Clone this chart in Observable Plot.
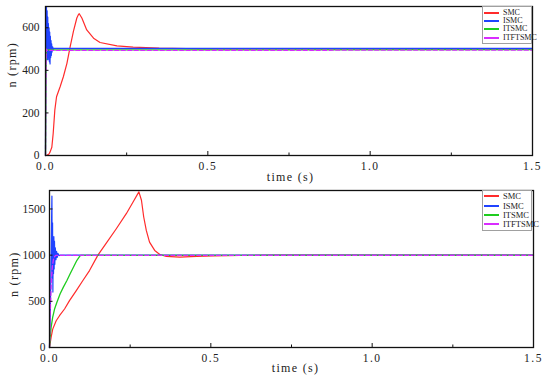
<!DOCTYPE html>
<html><head><meta charset="utf-8">
<script src="https://cdn.jsdelivr.net/npm/d3@7"></script>
<script src="https://cdn.jsdelivr.net/npm/@observablehq/plot@0.6"></script>
<style>
body{margin:0;background:#fff;}
#wrap{position:relative;width:550px;height:380px;overflow:hidden;}
#wrap svg{display:block;font-family:"Liberation Serif",serif !important;}
#wrap svg text{font-family:"Liberation Serif",serif !important;}
#wrap svg g[aria-label="text"] text{letter-spacing:1.3px;}
#wrap svg g[aria-label="x-axis tick label"] text{letter-spacing:1.5px;}
.legend{position:absolute;background:#fff;border:1px solid #a0a0a0;box-sizing:border-box;font-family:"Liberation Serif",serif;color:#222;}
.legend .row{position:absolute;left:0;height:0;}
.legend .sw{position:absolute;left:1px;width:15px;height:1.6px;top:-0.8px;}
.legend .lb{position:absolute;left:20px;top:-6px;line-height:12px;white-space:nowrap;}
</style></head><body><div id="wrap"></div>
<script>
// ---------- data ----------
const seriesNames = ["SMC", "ISMC", "ITSMC", "ITFTSMC"];
const seriesColors = ["#ff2b2b", "#2043ff", "#1fcc1f", "#d92cff"];
const xTicks = [0, 0.5, 1.0, 1.5];
const xTickLabels = ["0.0", "0.5", "1.0", "1.5"];
const xMinorTicks = [0.25, 0.75, 1.25];
const topYTicks = [0, 200, 400, 600];
const topYTickLabels = ["0", "200", "400", "600"];
const botYTicks = [0, 500, 1000, 1500];
const botYTickLabels = ["0", "500", "1000", "1500"];

// top panel (500 rpm)
const topSMC_t = [0, 0.005, 0.010, 0.014, 0.0195, 0.0236, 0.0287, 0.034, 0.045, 0.055, 0.066, 0.076, 0.086, 0.0965, 0.102, 0.104, 0.112, 0.127, 0.148, 0.168, 0.22, 0.27, 0.35, 0.476, 1.5];
const topSMC_v = [0, 2, 6, 16, 39, 102, 213, 276, 323, 370, 433, 512, 583, 646, 664, 666, 646, 590, 551, 531, 515, 509, 504, 501, 500];
const topISMC_t = [0, 0.001, 0.002, 0.003, 0.004, 0.005, 0.006, 0.007, 0.008, 0.009, 0.010, 0.011, 0.012, 0.013, 0.014, 0.015, 0.016, 0.017, 0.018, 0.019, 0.020, 0.022, 0.024, 0.026, 0.030, 1.5];
const topISMC_v = [0, 690, 560, 700, 470, 680, 450, 650, 460, 620, 450, 600, 440, 580, 430, 560, 460, 540, 470, 525, 485, 510, 495, 504, 503, 503];
const topITSMC_t = [0, 0.001, 0.002, 0.003, 0.006, 1.5];
const topITSMC_v = [0, 240, 460, 498, 496, 497];
const topITFTSMC_t = [0, 0.001, 0.002, 0.003, 0.005, 1.5];
const topITFTSMC_v = [0, 260, 470, 500, 494, 495];

// bottom panel (1000 rpm)
const botSMC_t = [0, 0.005, 0.010, 0.0207, 0.031, 0.0466, 0.062, 0.083, 0.1035, 0.124, 0.150, 0.176, 0.207, 0.238, 0.259, 0.277, 0.285, 0.292, 0.300, 0.310, 0.326, 0.342, 0.362, 0.404, 0.455, 0.507, 0.59, 0.7, 1.5];
const botSMC_v = [0, 109, 199, 290, 344, 417, 507, 616, 725, 833, 1000, 1130, 1286, 1449, 1576, 1685, 1594, 1413, 1268, 1141, 1051, 1007, 986, 978, 986, 993, 996, 1000, 1000];
const botISMC_t = [0, 0.003, 0.005, 0.0065, 0.0075, 0.0085, 0.0095, 0.0105, 0.0115, 0.0125, 0.0135, 0.0145, 0.0155, 0.0165, 0.018, 0.020, 0.022, 0.024, 0.026, 0.029, 0.033, 1.5];
const botISMC_v = [0, 500, 1000, 1400, 1640, 750, 1350, 600, 1150, 800, 1200, 850, 1150, 900, 1080, 950, 1040, 975, 1020, 995, 1000, 1000];
const botITSMC_t = [0, 0.002, 0.005, 0.010, 0.016, 0.023, 0.033, 0.043, 0.054, 0.064, 0.0745, 0.085, 0.095, 0.10, 1.5];
const botITSMC_v = [0, 110, 217, 330, 420, 490, 581, 654, 726, 799, 872, 944, 995, 998, 998];
const botITFTSMC_t = [0, 0.002, 0.004, 0.006, 0.009, 0.012, 0.016, 0.020, 1.5];
const botITFTSMC_v = [0, 330, 560, 740, 880, 950, 985, 998, 998];

// ---------- drawing ----------
const FONT = "'Liberation Serif', serif";
const zip = (t, v) => t.map((d, i) => ({t: d, v: v[i]}));
const fmtX = d => xTickLabels[xTicks.indexOf(d)];

function panel(cfg) {
  const sets = [
    zip(cfg.smc[0], cfg.smc[1]),
    zip(cfg.ismc[0], cfg.ismc[1]),
    zip(cfg.itsmc[0], cfg.itsmc[1]),
    zip(cfg.itftsmc[0], cfg.itftsmc[1])
  ];
  const fmtY = d => cfg.yLabels[cfg.yTicks.indexOf(d)];
  const svg = Plot.plot({
    width: 550, height: cfg.height,
    marginTop: cfg.mt, marginBottom: cfg.mb, marginLeft: cfg.ml, marginRight: cfg.mr,
    style: `font-family: ${FONT}; font-size: 12px; background: #fff; color: #222;`,
    x: {domain: [0, 1.5]},
    y: {domain: [0, cfg.yMax]},
    marks: [
      Plot.line(sets[0], {x: "t", y: "v", stroke: seriesColors[0], strokeWidth: 1.2}),
      Plot.line(sets[1], {x: "t", y: "v", stroke: seriesColors[1], strokeWidth: 1.2}),
      Plot.line(sets[2], {x: "t", y: "v", stroke: seriesColors[2], strokeWidth: 1.3}),
      Plot.line(sets[3], {x: "t", y: "v", stroke: seriesColors[3], strokeWidth: 1.3, strokeDasharray: "4,2.5"}),
      Plot.frame({stroke: "#111", strokeWidth: 1.3}),
      Plot.axisX(xTicks, {tickSize: 0, tickPadding: cfg.xPad, tickFormat: fmtX, label: null, fontSize: 11.5}),
      Plot.axisX(xTicks, {tickSize: 4, dy: -4, fill: "none", label: null, stroke: "#111"}),
      Plot.axisX(xMinorTicks, {tickSize: 2.5, dy: -2.5, fill: "none", label: null, stroke: "#111"}),
      Plot.axisY(cfg.yTicks, {tickSize: 0, tickPadding: cfg.yPad, tickFormat: fmtY, label: null, fontSize: 11.5}),
      Plot.axisY(cfg.yTicks, {tickSize: 3.5, dx: 3.5, fill: "none", label: null, stroke: "#111"}),
      Plot.text(["n (rpm)"], {text: d => d, frameAnchor: "left", rotate: -90, dx: cfg.ylDx, dy: cfg.ylDy, fontSize: 12}),
      Plot.text(["time (s)"], {text: d => d, frameAnchor: "bottom", lineAnchor: "middle", dx: cfg.xlDx, dy: cfg.xlDy, fontSize: 12})
    ]
  });
  svg.setAttribute("font-family", FONT);
  svg.querySelectorAll("g[font-family], text[font-family]").forEach(n => n.setAttribute("font-family", FONT));
  return svg;
}

const wrap = document.getElementById("wrap");
wrap.append(panel({
  height: 185, mt: 6, mb: 30, ml: 45, mr: 18, yMax: 700, yTicks: topYTicks, yLabels: topYTickLabels,
  xPad: 6, yPad: 6, ylDx: -33, ylDy: 6.5, xlDx: 1.5, xlDy: 22,
  smc: [topSMC_t, topSMC_v], ismc: [topISMC_t, topISMC_v],
  itsmc: [topITSMC_t, topITSMC_v], itftsmc: [topITFTSMC_t, topITFTSMC_v]
}));
wrap.append(panel({
  height: 195, mt: 5, mb: 33, ml: 49, mr: 17, yMax: 1700, yTicks: botYTicks, yLabels: botYTickLabels,
  xPad: 6, yPad: 4, ylDx: -35.5, ylDy: 28, xlDx: 4, xlDy: 21,
  smc: [botSMC_t, botSMC_v], ismc: [botISMC_t, botISMC_v],
  itsmc: [botITSMC_t, botITSMC_v], itftsmc: [botITFTSMC_t, botITFTSMC_v]
}));

function legend(left, top, w, h, rows, fs) {
  const box = document.createElement("div");
  box.className = "legend";
  Object.assign(box.style, {left: left + "px", top: top + "px", width: w + "px", height: h + "px", fontSize: fs + "px"});
  seriesNames.forEach((name, i) => {
    const r = document.createElement("div");
    r.className = "row";
    r.style.top = rows[i] + "px";
    const sw = document.createElement("div");
    sw.className = "sw";
    sw.style.background = seriesColors[i];
    const lb = document.createElement("div");
    lb.className = "lb";
    lb.textContent = name;
    r.append(sw, lb);
    box.append(r);
  });
  wrap.append(box);
}
legend(482, 6, 50, 38, [6, 14, 22, 31], 8);
legend(482, 190, 50, 41, [5, 15, 24, 33], 8.5);
</script>
</body></html>
